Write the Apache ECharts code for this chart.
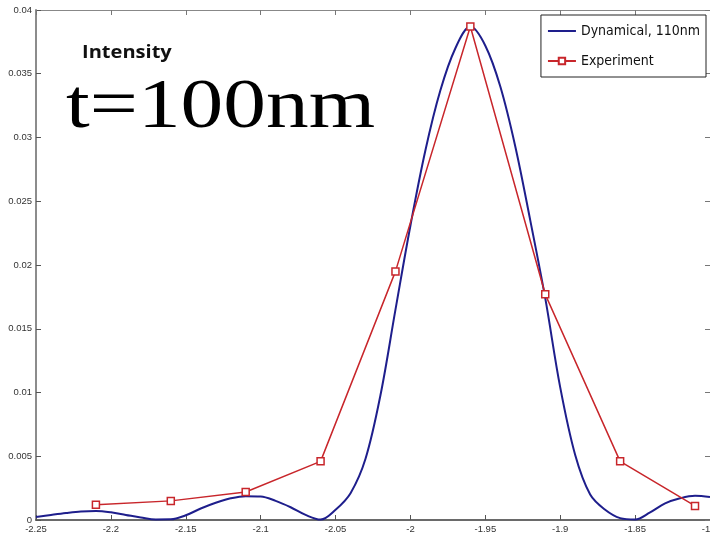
<!DOCTYPE html>
<html>
<head>
<meta charset="utf-8">
<title>Intensity t=100nm</title>
<script src="https://cdn.jsdelivr.net/npm/echarts@6/dist/echarts.min.js"></script>
<style>
  html, body { margin: 0; padding: 0; background: #fff; }
  #chart { width: 710px; height: 536px; }
</style>
</head>
<body>
<div id="chart"></div>
<script>
// Dynamical calculation (110 nm), sampled every 0.01
const dynX = [-2.25, -2.24, -2.23, -2.22, -2.21, -2.20, -2.19, -2.18, -2.17, -2.16,
  -2.15, -2.14, -2.13, -2.12, -2.11, -2.10, -2.09, -2.08, -2.07, -2.06,
  -2.05, -2.04, -2.03, -2.02, -2.01, -2.00, -1.99, -1.98, -1.97, -1.96,
  -1.95, -1.94, -1.93, -1.92, -1.91, -1.90, -1.89, -1.88, -1.87, -1.86,
  -1.85, -1.84, -1.83, -1.82, -1.81, -1.80];
const dynY = [0.00024, 0.0004, 0.00055, 0.00067, 0.0007, 0.0006, 0.0004, 0.0002, 0.00004, 0.00005,
  0.00037, 0.0009, 0.00135, 0.0017, 0.00187, 0.00185, 0.0015, 0.001, 0.0004, 0.00003,
  0.0008, 0.0021, 0.0048, 0.0098, 0.0165, 0.0231, 0.029, 0.0337, 0.037, 0.0387,
  0.0372, 0.034, 0.0293, 0.0235, 0.0174, 0.0104, 0.0051, 0.002, 0.0008, 0.00015,
  0.00004, 0.0006, 0.0013, 0.0017, 0.0019, 0.0018];

// Measured intensities
const expX = [-2.21, -2.16, -2.11, -2.06, -2.01, -1.96, -1.91, -1.86, -1.81];
const expY = [0.0012, 0.0015, 0.0022, 0.0046, 0.0195, 0.0387, 0.0177, 0.0046, 0.0011];

const seriesNames = ['Dynamical, 110nm', 'Experiment'];
const xTicks = { min: -2.25, max: -1.8, step: 0.05 };
const yTicks = { min: 0, max: 0.04, step: 0.005 };

const pairs = (xs, ys) => xs.map((x, i) => [x, ys[i]]);
const fmt = v => String(+v.toFixed(4));

const tickFont = { fontFamily: 'Liberation Sans, Arial, sans-serif', fontSize: 9.5, color: '#333' };

const chart = echarts.init(document.getElementById('chart'), null, { renderer: 'canvas' });
chart.setOption({
  backgroundColor: '#ffffff',
  animation: false,
  grid: { left: 36, right: 0, top: 10, bottom: 16, containLabel: false, outerBoundsMode: 'none' },
  xAxis: [
    {
      type: 'value', min: xTicks.min, max: xTicks.max, interval: xTicks.step,
      axisLine: { show: true, onZero: false, lineStyle: { color: '#3a3a3a', width: 1.5 } },
      axisTick: { show: true, inside: true, length: 5, lineStyle: { color: '#555' } },
      axisLabel: Object.assign({ formatter: fmt, margin: 4, showMaxLabel: true, showMinLabel: true, hideOverlap: false }, tickFont),
      splitLine: { show: false }
    },
    {
      type: 'value', position: 'top', min: xTicks.min, max: xTicks.max, interval: xTicks.step,
      axisLine: { show: true, onZero: false, lineStyle: { color: '#888', width: 1 } },
      axisTick: { show: true, inside: true, length: 5, lineStyle: { color: '#777' } },
      axisLabel: { show: false },
      splitLine: { show: false }
    }
  ],
  yAxis: [
    {
      type: 'value', min: yTicks.min, max: yTicks.max, interval: yTicks.step,
      axisLine: { show: true, onZero: false, lineStyle: { color: '#8c8c8c', width: 2 } },
      axisTick: { show: true, inside: true, length: 5, lineStyle: { color: '#555' } },
      axisLabel: Object.assign({ formatter: fmt, margin: 4 }, tickFont),
      splitLine: { show: false }
    },
    {
      type: 'value', position: 'right', min: yTicks.min, max: yTicks.max, interval: yTicks.step,
      axisLine: { show: true, onZero: false, lineStyle: { color: '#888', width: 1 } },
      axisTick: { show: true, inside: true, length: 5, lineStyle: { color: '#777' } },
      axisLabel: { show: false },
      splitLine: { show: false }
    }
  ],
  legend: {
    orient: 'vertical', right: 4, top: 15,
    backgroundColor: '#fff', borderColor: '#222', borderWidth: 1, borderRadius: 0,
    padding: [6, 6, 6, 6],
    itemWidth: 28, itemHeight: 8, itemGap: 10,
    textStyle: { fontFamily: 'Liberation Sans Narrow, DejaVu Sans Condensed, sans-serif', fontSize: 14, color: '#111', lineHeight: 20 },
    data: [
      { name: seriesNames[0], itemStyle: { opacity: 0 } },
      { name: seriesNames[1] }
    ]
  },
  graphic: [
    {
      type: 'text', x: 82, y: 45, scaleX: 1.18,
      style: { text: 'Intensity', fontFamily: 'Open Sans, Lato, sans-serif', fontWeight: 'bold', fontSize: 17, fill: '#111' }
    },
    {
      type: 'text', x: 66, y: 74, scaleX: 1.22,
      style: { text: 't=100nm', fontFamily: 'Liberation Serif, Times New Roman, serif', fontSize: 70, fill: '#000' }
    }
  ],
  series: [
    {
      name: seriesNames[0], type: 'line', xAxisIndex: 0, yAxisIndex: 0,
      data: pairs(dynX, dynY), smooth: 0.35, symbol: 'none',
      lineStyle: { color: '#1e1e8c', width: 2 }, itemStyle: { color: '#1e1e8c' }, z: 2
    },
    {
      name: seriesNames[1], type: 'line', xAxisIndex: 0, yAxisIndex: 0,
      data: pairs(expX, expY), smooth: false,
      symbol: 'rect', symbolSize: 7,
      lineStyle: { color: '#c8262b', width: 1.5 },
      itemStyle: { color: '#ffffff', borderColor: '#c8262b', borderWidth: 1.5 }, z: 3
    }
  ]
});
</script>
</body>
</html>
